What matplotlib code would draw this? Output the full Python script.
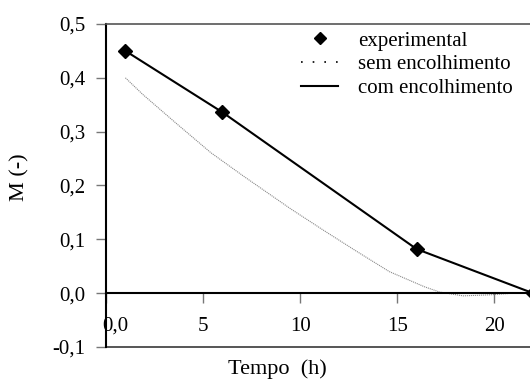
import matplotlib
matplotlib.use('Agg')
import matplotlib.pyplot as plt
import matplotlib.transforms as mtransforms
from matplotlib.lines import Line2D

plt.rcParams['font.family'] = ['Liberation Serif', 'DejaVu Serif']

# experimental points (also the "com encolhimento" model line)
t_exp = [1.0, 6.0, 16.0, 22.0]
m_exp = [0.450, 0.336, 0.082, 0.0]

t_com = [1.0, 6.0, 16.0, 22.0]
m_com = [0.450, 0.336, 0.082, 0.0]

# model without shrinkage
t_sem = [1.0, 1.9, 3.6, 5.4, 7.1, 9.5, 11.2, 12.9, 14.6, 16.4, 17.2, 18.4, 19.8, 21.0]
m_sem = [0.400, 0.369, 0.316, 0.261, 0.217, 0.157, 0.117, 0.078, 0.040, 0.012,
         0.002, -0.005, -0.003, 0.0]

xticks = [0, 5, 10, 15, 20]
xticklabels = ['0,0', '5', '10', '15', '20']
yticks = [-0.1, 0.0, 0.1, 0.2, 0.3, 0.4, 0.5]
yticklabels = ['-0,1', '0,0', '0,1', '0,2', '0,3', '0,4', '0,5']

fig = plt.figure(figsize=(5.3, 3.8), dpi=100)
ax = fig.add_axes([106 / 530, 33 / 380, 427 / 530, 323 / 380])

ax.plot(t_sem, m_sem, color='#8a8a8a', lw=0.8, ls=(0, (1, 0.8)), clip_on=False)
ax.plot(t_com, m_com, color='black', lw=1.5, clip_on=False, zorder=3)
ax.plot(t_exp, m_exp, ls='none', marker='D', ms=7.5, color='black',
        clip_on=False, zorder=4)

ax.set_xlim(0, 22)
ax.set_ylim(-0.1, 0.5)

ax.spines['right'].set_visible(False)
ax.spines['top'].set_color('#555555')
ax.spines['top'].set_linewidth(1.2)
ax.spines['left'].set_linewidth(1.5)
ax.spines['bottom'].set_position(('data', 0))
ax.spines['bottom'].set_linewidth(1.5)
ax.axhline(-0.1, color='#555555', lw=1.4, clip_on=False)

ax.set_xticks(xticks)
ax.set_xticklabels(xticklabels)
ax.set_yticks(yticks)
ax.set_yticklabels(yticklabels)
ax.tick_params(axis='both', direction='out', length=7, width=1,
               color='#777777', labelsize=15)
ax.tick_params(axis='y', pad=8)
ax.tick_params(axis='x', pad=10)

# first x label sits a bit to the right of the axis
lbl = ax.get_xticklabels()[0]
lbl.set_transform(lbl.get_transform() +
                  mtransforms.ScaledTranslation(9 / 100, 0, fig.dpi_scale_trans))

fig.text(20 / 530, 1 - 177 / 380, 'M (-)', rotation=90, fontsize=16,
         ha='center', va='center')
fig.text(277 / 530, 1 - 369 / 380, 'Tempo  (h)', fontsize=16,
         ha='center', va='center')

handles = [
    Line2D([], [], ls='none', marker='D', ms=6.5, color='black'),
    Line2D([], [], ls=(0, (1, 6)), lw=1.2, color='black'),
    Line2D([], [], ls='-', lw=1.5, color='black'),
]
labels = ['experimental', 'sem encolhimento', 'com encolhimento']
ax.legend(handles, labels, loc='upper left', frameon=False, fontsize=15,
          bbox_to_anchor=(301 / 530, 1 - 31 / 380), bbox_transform=fig.transFigure,
          borderpad=0, borderaxespad=0, handlelength=1.78, handletextpad=0.96,
          labelspacing=0.2)

fig.savefig('out.png', dpi=100)
